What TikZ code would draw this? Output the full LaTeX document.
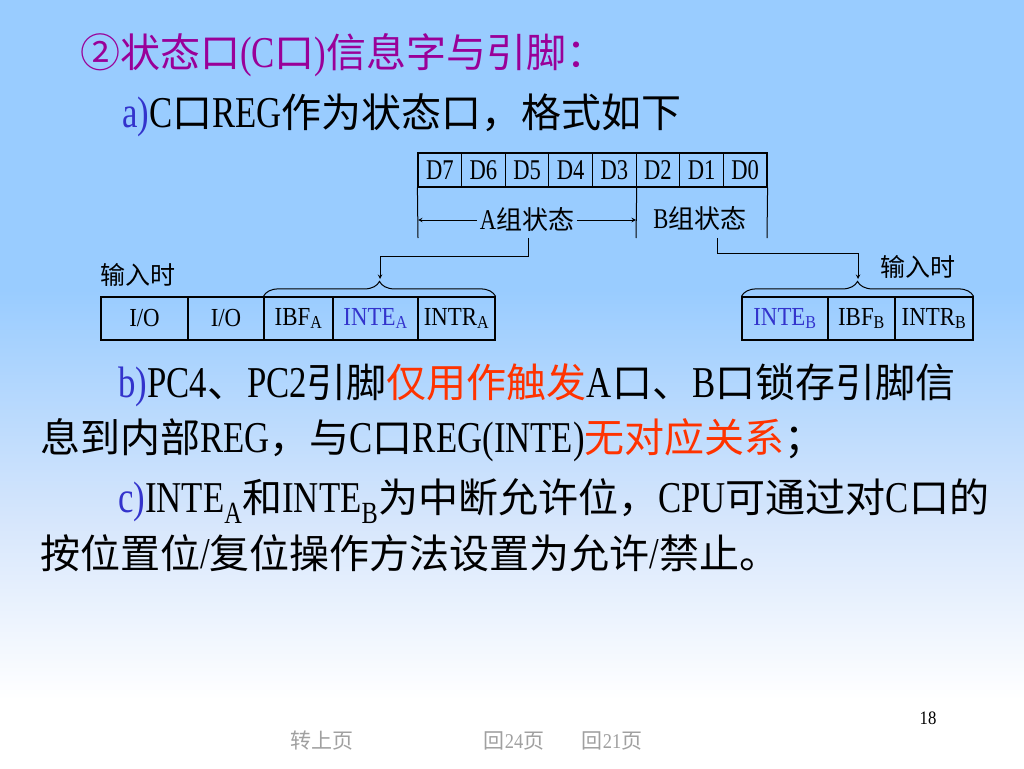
\documentclass[tikz,border=0pt]{standalone}
\usepackage{fontspec}
\setmainfont{Liberation Serif}[Scale=1.1,FakeStretch=0.79]
\newfontfamily\cjk{Noto Sans CJK SC}
\newfontfamily\boxfont{Liberation Serif}[FakeStretch=0.88]
\newcommand{\zh}[1]{{\cjk #1}}
\usepackage{tikz}
\usetikzlibrary{arrows}
\usetikzlibrary{decorations.pathreplacing}
\definecolor{sky}{RGB}{153,204,255}
\definecolor{midsky}{RGB}{214,230,252}
\definecolor{titlepurple}{RGB}{153,0,153}
\definecolor{itemblue}{RGB}{51,51,204}
\definecolor{keyred}{RGB}{255,51,0}
\definecolor{footgray}{RGB}{160,160,160}

\begin{document}
\begin{tikzpicture}[x=1pt, y=-1pt, >=stealth,
                    txt/.style={anchor=base west, inner sep=0pt, font=\fontsize{40}{48}\selectfont},
                    bitcell/.style={draw, line width=1.2pt, minimum width=43.6pt, minimum height=34pt,
                                    inner sep=0pt, font=\fontsize{26}{30}\selectfont},
                    regcell/.style={draw, line width=1.2pt, minimum height=43pt, inner sep=0pt,
                                    font=\boxfont\fontsize{26}{30}\selectfont},
                    grp/.style={inner sep=3pt, font=\fontsize{26}{30}\selectfont},
                    inlabel/.style={inner sep=0pt, font=\cjk\fontsize{25}{30}\selectfont},
                    foot/.style={inner sep=0pt, text=footgray, font=\cjk\fontsize{21}{25}\selectfont},
                    conn/.style={line width=1pt},
                    brc/.style={decorate, decoration={brace, amplitude=15pt}, line width=1pt}]

\fill[sky] (0,0) rectangle (1024,290);
\shade[top color=sky, bottom color=midsky] (0,290) rectangle (1024,520);
\shade[top color=midsky, bottom color=white] (0,520) rectangle (1024,700);
\fill[white] (0,700) rectangle (1024,768);
\useasboundingbox (0,0) rectangle (1024,768);

\node[txt, text=titlepurple] (title) at (80,67) {\zh{②状态口}(C\zh{口})\zh{信息字与引脚：}};
\node[txt] (linea) at (122,127) {\textcolor{itemblue}{a)}C\zh{口}REG\zh{作为状态口，格式如下}};

\foreach \b [count=\i from 0] in {7,6,5,4,3,2,1,0}
  \node[bitcell] (d\b) at ({439.8+43.625*\i},170) {D\b};

\coordinate (al) at (418,238);
\coordinate (am) at (636,238);
\coordinate (ar) at (767,238);
\draw[conn] (d7.south west) -- (al) (d3.south east) -- (am) (d0.south east) -- (ar);

\node[grp] (agrp) at (527,220) {A\zh{组状态}};
\node[grp] (bgrp) at (700,219) {B\zh{组状态}};
\draw[conn,->] (agrp.west) -- (al |- agrp.west);
\draw[conn,->] (agrp.east) -- (am |- agrp.east);

\node[regcell, minimum width=87pt] (io1) at (144.5,318.5) {I/O};
\node[regcell, minimum width=76pt] (io0) at (226,318.5) {I/O};
\node[regcell, minimum width=69pt] (ibfa) at (298.5,318.5) {IBF\textsubscript{A}};
\node[regcell, minimum width=85pt, text=itemblue] (intea) at (375.5,318.5) {INTE\textsubscript{A}};
\node[regcell, minimum width=77pt] (intra) at (456.5,318.5) {INTR\textsubscript{A}};

\node[regcell, minimum width=86pt, text=itemblue] (inteb) at (785,318.5) {INTE\textsubscript{B}};
\node[regcell, minimum width=67pt] (ibfb) at (861.5,318.5) {IBF\textsubscript{B}};
\node[regcell, minimum width=78pt] (intrb) at (934,318.5) {INTR\textsubscript{B}};

\node[inlabel] (ina) at (138,275) {输入时};
\node[inlabel] (inb) at (918,267) {输入时};

\draw[brc] (ibfa.north west) -- (intra.north east);
\draw[brc] (inteb.north west) -- (intrb.north east);

\coordinate (atap) at (528,238);
\coordinate (btap) at (717,238);
\coordinate (atip) at (380,279);
\coordinate (btip) at (858,279);
\draw[conn,->] (atap) -- ++(0,18) -| (atip);
\draw[conn,->] (btap) -- ++(0,15) -| (btip);

\node[txt] (lineb) at (118,397) {\textcolor{itemblue}{b)}PC4\zh{、}PC2\zh{引脚\textcolor{keyred}{仅用作触发}}A\zh{口、}B\zh{口锁存引脚信}};
\node[txt] (lineb2) at (40,452) {\zh{息到内部}REG\zh{，与}C\zh{口}REG(INTE)\zh{\textcolor{keyred}{无对应关系}；}};
\node[txt] (linec) at (118,512) {\textcolor{itemblue}{c)}INTE\textsubscript{A}\zh{和}INTE\textsubscript{B}\zh{为中断允许位，}CPU\zh{可通过对}C\zh{口的}};
\node[txt] (linec2) at (40,568) {\zh{按位置位}/\zh{复位操作方法设置为允许}/\zh{禁止。}};

\node[foot] (prev) at (322,741) {转上页};
\node[foot] (back24) at (514,741) {回{\boxfont 24}页};
\node[foot] (back21) at (612,741) {回{\boxfont 21}页};
\node[inner sep=0pt, font=\boxfont\fontsize{19}{22}\selectfont] (pageno) at (928,718) {18};
\end{tikzpicture}
\end{document}
